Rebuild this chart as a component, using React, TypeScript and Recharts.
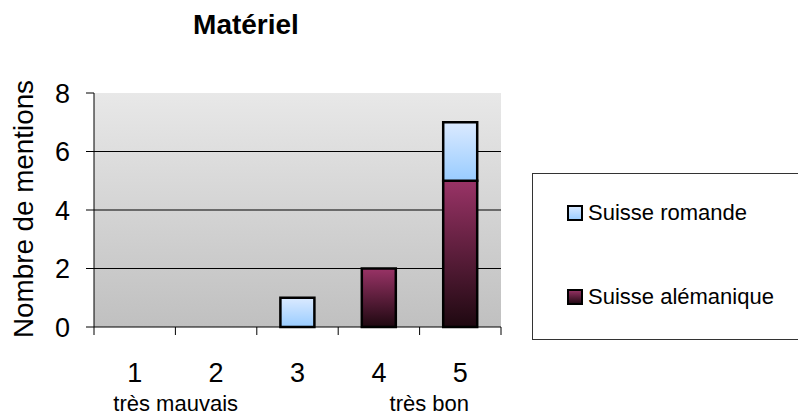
import React from 'react';
import { BarChart, Bar, XAxis, YAxis, CartesianGrid, Legend } from 'recharts';

// Ratings 1..5 and the number of mentions per region
const categories = ['1', '2', '3', '4', '5'];
const romande = [0, 0, 1, 0, 2];
const alemanique = [0, 0, 0, 2, 5];
const yTicks = [0, 2, 4, 6, 8];
const gridValues = [2, 4, 6];
const edgeTicks = [0, 1, 2, 3, 4, 5];
const scaleNotes: Record<string, { text: string; dx: number }> = {
  '1': { text: 'très mauvais', dx: 41 },
  '5': { text: 'très bon', dx: -31 },
};

const title = 'Matériel';
const yLabel = 'Nombre de mentions';
const nameRomande = 'Suisse romande';
const nameAlemanique = 'Suisse alémanique';

const data = categories.map((cat, i) => ({
  cat,
  slot: i + 0.5,
  alemanique: alemanique[i],
  romande: romande[i],
}));

const FONT = '"Liberation Sans", Arial, sans-serif';

// axis ids: the boundary-tick axis sits right on the plot edge, the labelled one under it
const EDGE_AXIS = 0;
const CAT_AXIS = 1;

const CategoryTick = (props: any) => {
  const { x, y, payload } = props;
  const note = scaleNotes[payload.value];
  return (
    <g>
      <text x={x} y={y + 54} textAnchor="middle" fontSize={27} fontFamily={FONT} fill="#000">
        {payload.value}
      </text>
      {note && (
        <text x={x + note.dx} y={y + 83} textAnchor="middle" fontSize={22} fontFamily={FONT} fill="#000">
          {note.text}
        </text>
      )}
    </g>
  );
};

// Category boundary marks: only the tick line is wanted, no label
const EmptyTick = () => <g />;

const YTitle = (props: any) => {
  const vb = props.viewBox || { x: 0, y: 93, width: 94, height: 234 };
  const cx = vb.x + 23;
  const cy = vb.y + vb.height / 2 - 1;
  return (
    <text
      x={cx}
      y={cy}
      transform={`rotate(-90 ${cx} ${cy})`}
      textAnchor="middle"
      dominantBaseline="central"
      fontSize={27.8}
      fontFamily={FONT}
      fill="#000"
    >
      {yLabel}
    </text>
  );
};

const LegendBox = (props: any) => {
  const items = [...(props.payload ?? [])].reverse();
  return (
    <div style={{ position: 'relative', width: '100%', height: '100%' }}>
      {items.map((item: any, i: number) => (
        <div
          key={item.value}
          style={{
            position: 'absolute',
            left: 34,
            top: 27 + i * 84,
            height: 24,
            display: 'flex',
            alignItems: 'center',
            fontSize: 22,
            fontFamily: FONT,
            color: '#000',
            whiteSpace: 'nowrap',
          }}
        >
          <svg width={16} height={16} style={{ marginRight: 5, display: 'block' }}>
            <rect x={1} y={1} width={14} height={14} fill={item.color} stroke="#000" strokeWidth={2} />
          </svg>
          <span>{item.value}</span>
        </div>
      ))}
    </div>
  );
};

export default function App() {
  return (
    <div
      style={{
        position: 'fixed',
        left: 0,
        top: 0,
        width: 798,
        height: 417,
        overflow: 'hidden',
        background: '#fff',
      }}
    >
      <div
        style={{
          position: 'absolute',
          left: 146,
          top: 11,
          width: 200,
          textAlign: 'center',
          fontFamily: FONT,
          fontWeight: 'bold',
          fontSize: 28,
          lineHeight: '28px',
          color: '#000',
        }}
      >
        {title}
      </div>
      <BarChart
        width={798}
        height={417}
        data={data}
        margin={{ top: 93, right: 297, bottom: 0, left: 0 }}
        barCategoryGap="29%"
      >
        <defs>
          <linearGradient id="gradPlot" x1="0" y1="0" x2="0" y2="1">
            <stop offset="0%" stopColor="#e8e8e8" />
            <stop offset="100%" stopColor="#c0c0c0" />
          </linearGradient>
          <linearGradient id="gradRomande" x1="0" y1="0" x2="0" y2="1">
            <stop offset="0%" stopColor="#dbeaff" />
            <stop offset="100%" stopColor="#99ccff" />
          </linearGradient>
          <linearGradient id="gradAlemanique" x1="0" y1="0" x2="0" y2="1">
            <stop offset="0%" stopColor="#993366" />
            <stop offset="100%" stopColor="#1e0810" />
          </linearGradient>
        </defs>
        <CartesianGrid
          xAxisId={CAT_AXIS}
          vertical={false}
          horizontalValues={gridValues}
          stroke="#000"
          strokeWidth={1}
          fill="url(#gradPlot)"
          fillOpacity={1}
        />
        <XAxis
          xAxisId={EDGE_AXIS}
          type="number"
          dataKey="slot"
          domain={[0, 5]}
          ticks={edgeTicks}
          interval={0}
          height={1}
          tick={<EmptyTick />}
          tickSize={8}
          axisLine={{ stroke: '#000', strokeWidth: 1 }}
          tickLine={{ stroke: '#000', strokeWidth: 1 }}
        />
        <XAxis
          xAxisId={CAT_AXIS}
          dataKey="cat"
          height={89}
          tickLine={false}
          tickSize={0}
          tickMargin={0}
          axisLine={false}
          tick={<CategoryTick />}
          interval={0}
        />
        <YAxis
          width={94}
          domain={[0, 8]}
          ticks={yTicks}
          interval={0}
          tickSize={8}
          tickMargin={16}
          axisLine={{ stroke: '#000', strokeWidth: 1 }}
          tickLine={{ stroke: '#000', strokeWidth: 1 }}
          tick={{ fontSize: 27, fontFamily: FONT, fill: '#000' }}
          label={<YTitle />}
        />
        <Legend
          layout="horizontal"
          verticalAlign="middle"
          align="center"
          content={<LegendBox />}
          wrapperStyle={{
            left: 532,
            top: 173,
            width: 280,
            height: 167,
            border: '1px solid #333',
            boxSizing: 'border-box',
            background: '#fff',
          }}
        />
        <Bar
          xAxisId={CAT_AXIS}
          dataKey="alemanique"
          name={nameAlemanique}
          stackId="mentions"
          fill="url(#gradAlemanique)"
          stroke="#000"
          strokeWidth={2.5}
          isAnimationActive={false}
        />
        <Bar
          xAxisId={CAT_AXIS}
          dataKey="romande"
          name={nameRomande}
          stackId="mentions"
          fill="url(#gradRomande)"
          stroke="#000"
          strokeWidth={2.5}
          isAnimationActive={false}
        />
      </BarChart>
    </div>
  );
}
